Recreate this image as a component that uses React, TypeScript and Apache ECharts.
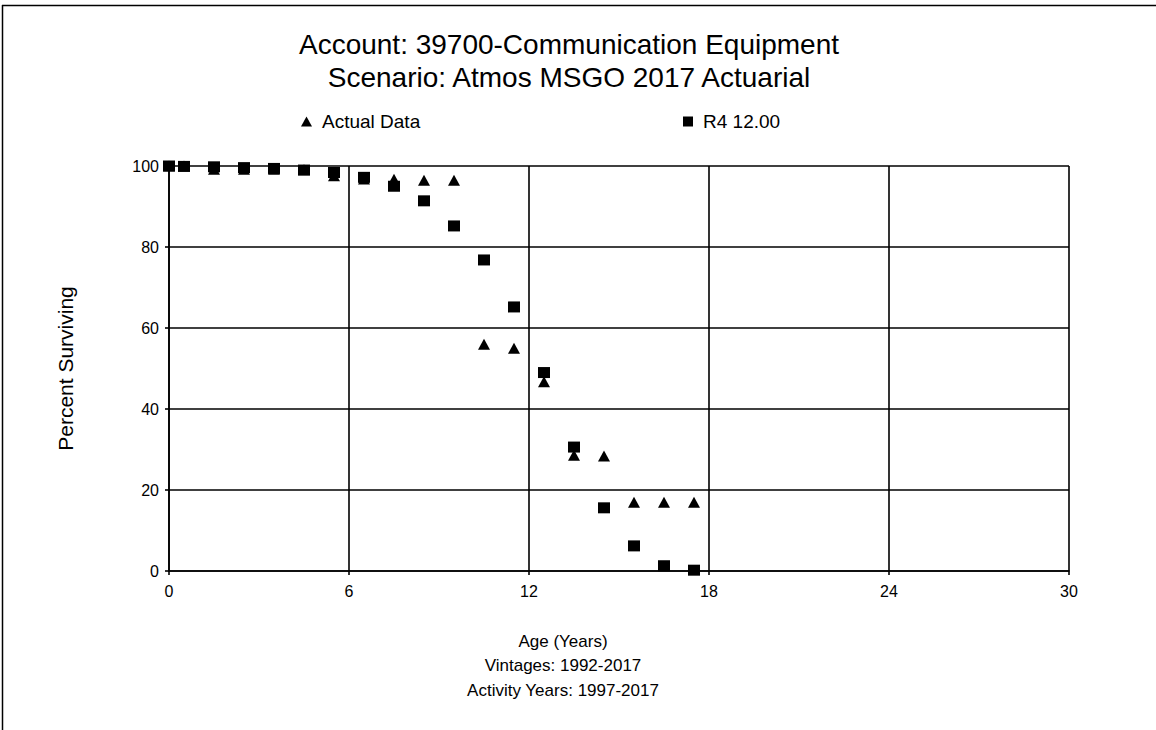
import React, { useEffect, useRef } from "react";
import * as echarts from "echarts";

// Ages (years) at which survivorship is observed
const ages = [0, 0.5, 1.5, 2.5, 3.5, 4.5, 5.5, 6.5, 7.5, 8.5, 9.5, 10.5, 11.5, 12.5, 13.5, 14.5, 15.5, 16.5, 17.5];

// Observed percent surviving
const actualData = [100, 100, 99.2, 99.2, 99.2, 99.1, 97.6, 96.8, 96.7, 96.5, 96.5, 56, 55, 46.7, 28.6, 28.4, 17, 17, 17];

// Fitted Iowa curve R4, 12-year average life
const r4Curve = [100, 99.9, 99.8, 99.6, 99.4, 99.0, 98.4, 97.2, 95.0, 91.4, 85.2, 76.8, 65.2, 49.0, 30.6, 15.6, 6.2, 1.3, 0.2];

const titleLines = ["Account: 39700-Communication Equipment", "Scenario: Atmos MSGO 2017 Actuarial"];
const footerLines = ["Age (Years)", "Vintages: 1992-2017", "Activity Years: 1997-2017"];
const seriesNames = ["Actual Data", "R4 12.00"];

const FONT = "'Liberation Sans', Arial, sans-serif";

export default function App() {
  const ref = useRef<HTMLDivElement>(null);

  useEffect(() => {
    if (!ref.current) return;
    const chart = echarts.init(ref.current, null, { renderer: "svg" });
    const pair = (vals: number[]) => ages.map((a, i) => [a, vals[i]]);

    const legendText = { fontFamily: FONT, fontSize: 19, color: "#000", padding: [0, 0, 0, 5] };

    chart.setOption({
      animation: false,
      backgroundColor: "#fff",
      textStyle: { fontFamily: FONT, color: "#000" },
      title: {
        text: titleLines.join("\n"),
        left: 569,
        top: 28,
        padding: 0,
        textAlign: "center",
        textStyle: { fontFamily: FONT, fontSize: 28, fontWeight: "normal", color: "#000", lineHeight: 33 },
      },
      legend: [
        {
          data: [{ name: seriesNames[0], icon: "triangle" }],
          left: 301,
          top: 112,
          padding: 0,
          itemWidth: 11,
          itemHeight: 10,
          textStyle: legendText,
        },
        {
          data: [{ name: seriesNames[1], icon: "rect" }],
          left: 683,
          top: 112,
          padding: 0,
          itemWidth: 10,
          itemHeight: 10,
          textStyle: legendText,
        },
      ],
      grid: { left: 169, right: 87, top: 166, bottom: 159, containLabel: false },
      xAxis: {
        type: "value",
        min: 0,
        max: 30,
        interval: 6,
        axisLine: { lineStyle: { color: "#000", width: 1.6 } },
        axisTick: { show: true, length: 4, lineStyle: { color: "#000", width: 1.6 } },
        axisLabel: { fontFamily: FONT, fontSize: 16, color: "#000", margin: 12 },
        splitLine: { show: true, lineStyle: { color: "#000", width: 1.6 } },
      },
      yAxis: {
        type: "value",
        min: 0,
        max: 100,
        interval: 20,
        name: "Percent Surviving",
        nameLocation: "middle",
        nameGap: 93,
        nameRotate: 90,
        nameTextStyle: { fontFamily: FONT, fontSize: 21, color: "#000" },
        axisLine: { show: true, lineStyle: { color: "#000", width: 1.6 } },
        axisTick: { show: true, length: 4, lineStyle: { color: "#000", width: 1.6 } },
        axisLabel: { fontFamily: FONT, fontSize: 16, color: "#000", margin: 10 },
        splitLine: { show: true, lineStyle: { color: "#000", width: 1.6 } },
      },
      series: [
        {
          name: seriesNames[0],
          type: "scatter",
          symbol: "triangle",
          symbolSize: [12, 11],
          itemStyle: { color: "#000", opacity: 1 },
          data: pair(actualData),
          z: 3,
        },
        {
          name: seriesNames[1],
          type: "scatter",
          symbol: "rect",
          symbolSize: [12, 11],
          itemStyle: { color: "#000", opacity: 1 },
          data: pair(r4Curve),
          z: 4,
        },
      ],
      graphic: [
        // frame lines along the top and left edges
        { type: "line", shape: { x1: 2, y1: 5.5, x2: 1156, y2: 5.5 }, style: { stroke: "#000", lineWidth: 1.5 } },
        { type: "line", shape: { x1: 2.5, y1: 5, x2: 2.5, y2: 730 }, style: { stroke: "#000", lineWidth: 1.5 } },
        ...footerLines.map((t, i) => ({
          type: "text",
          x: 563,
          y: [641, 665, 690][i],
          style: {
            text: t,
            textAlign: "center",
            textVerticalAlign: "middle",
            fontFamily: FONT,
            fontSize: 17,
            fill: "#000",
          },
        })),
      ],
    });

    return () => chart.dispose();
  }, []);

  return <div ref={ref} style={{ position: "absolute", left: 0, top: 0, width: 1156, height: 730 }} />;
}
